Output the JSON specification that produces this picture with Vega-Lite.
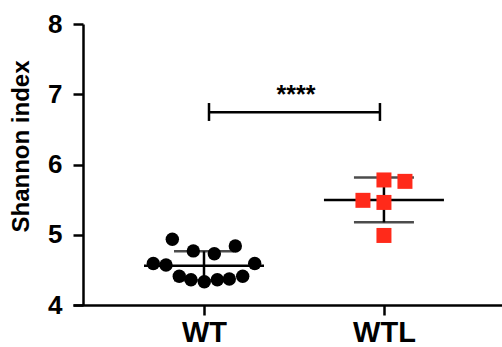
{
  "$schema": "https://vega.github.io/schema/vega-lite/v6.json",
  "width": 429,
  "height": 281,
  "autosize": {"type": "none"},
  "padding": {"left": 73, "top": 24, "right": 0, "bottom": 42},
  "background": "white",
  "config": {
    "view": {"stroke": null},
    "font": "Liberation Sans",
    "axis": {
      "domainColor": "black", "domainWidth": 2.5, "tickColor": "black", "tickWidth": 2.5, "tickSize": 10,
      "labelColor": "black", "labelFont": "Liberation Sans", "labelFontWeight": "bold", "grid": false,
      "titleColor": "black", "titleFont": "Liberation Sans", "titleFontWeight": "bold"
    }
  },
  "data": {
    "values": [
      {"group": "WT", "value": 4.935, "jitter": -0.528},
      {"group": "WT", "value": 4.77, "jitter": -0.178},
      {"group": "WT", "value": 4.73, "jitter": 0.172},
      {"group": "WT", "value": 4.84, "jitter": 0.522},
      {"group": "WT", "value": 4.59, "jitter": -0.845},
      {"group": "WT", "value": 4.57, "jitter": -0.633},
      {"group": "WT", "value": 4.59, "jitter": 0.845},
      {"group": "WT", "value": 4.41, "jitter": -0.412},
      {"group": "WT", "value": 4.36, "jitter": -0.217},
      {"group": "WT", "value": 4.33, "jitter": 0.005},
      {"group": "WT", "value": 4.36, "jitter": 0.222},
      {"group": "WT", "value": 4.37, "jitter": 0.422},
      {"group": "WT", "value": 4.41, "jitter": 0.645},
      {"group": "WTL", "value": 5.78, "jitter": 0},
      {"group": "WTL", "value": 5.76, "jitter": 0.35},
      {"group": "WTL", "value": 5.49, "jitter": -0.35},
      {"group": "WTL", "value": 5.46, "jitter": 0},
      {"group": "WTL", "value": 4.99, "jitter": 0}
    ]
  },
  "layer": [
    {
      "mark": {"type": "tick", "size": 120, "thickness": 2.5, "color": "black"},
      "encoding": {
        "x": {
          "field": "group", "type": "nominal",
          "scale": {"type": "point", "domain": ["WT", "WTL"], "padding": 0.692, "align": 0.526},
          "axis": {"title": null, "labelAngle": 0, "labelFontSize": 29, "labelPadding": 3}
        },
        "y": {
          "aggregate": "mean", "field": "value", "type": "quantitative", "title": "Shannon index",
          "scale": {"domain": [4, 8], "nice": false, "zero": false},
          "axis": {
            "titleFontSize": 24, "values": [4, 5, 6, 7, 8], "format": "d", "offset": -10,
            "labelFontSize": 26, "labelPadding": 11, "titleX": -50, "titleY": 122, "titleAngle": -90,
            "titleAlign": "center", "titleBaseline": "bottom"
          }
        }
      }
    },
    {
      "mark": {
        "type": "errorbar", "extent": "stdev",
        "ticks": {"size": 60, "thickness": 2.5, "color": "black"},
        "rule": {"strokeWidth": 2.5, "color": "black"}
      },
      "encoding": {
        "x": {"field": "group", "type": "nominal"},
        "y": {"field": "value", "type": "quantitative", "title": "Shannon index"}
      }
    },
    {
      "mark": {"type": "point", "filled": true, "opacity": 1, "strokeWidth": 0},
      "encoding": {
        "x": {"field": "group", "type": "nominal"},
        "xOffset": {"field": "jitter", "type": "quantitative", "scale": {"domain": [-1, 1], "range": [-60, 60]}},
        "y": {"field": "value", "type": "quantitative", "title": "Shannon index"},
        "shape": {"field": "group", "type": "nominal", "scale": {"domain": ["WT", "WTL"], "range": ["circle", "square"]}, "legend": null},
        "color": {"field": "group", "type": "nominal", "scale": {"domain": ["WT", "WTL"], "range": ["#000000", "#ff2a1a"]}, "legend": null},
        "size": {"field": "group", "type": "nominal", "scale": {"domain": ["WT", "WTL"], "range": [180, 225]}, "legend": null}
      }
    },
    {
      "data": {"values": [{"a": "WT", "b": "WTL", "y": 6.745}]},
      "mark": {"type": "rule", "strokeWidth": 2.5, "color": "black", "xOffset": 5, "x2Offset": -4},
      "encoding": {
        "x": {"field": "a", "type": "nominal"},
        "x2": {"field": "b"},
        "y": {"field": "y", "type": "quantitative", "title": "Shannon index"}
      }
    },
    {
      "data": {"values": [{"a": "WT", "y1": 6.62, "y2": 6.875}]},
      "mark": {"type": "rule", "strokeWidth": 2.5, "color": "black", "xOffset": 5},
      "encoding": {
        "x": {"field": "a", "type": "nominal"},
        "y": {"field": "y1", "type": "quantitative", "title": "Shannon index"},
        "y2": {"field": "y2"}
      }
    },
    {
      "data": {"values": [{"a": "WTL", "y1": 6.62, "y2": 6.875}]},
      "mark": {"type": "rule", "strokeWidth": 2.5, "color": "black", "xOffset": -4},
      "encoding": {
        "x": {"field": "a", "type": "nominal"},
        "y": {"field": "y1", "type": "quantitative", "title": "Shannon index"},
        "y2": {"field": "y2"}
      }
    },
    {
      "data": {"values": [{"a": "WT", "y": 6.99, "label": "****"}]},
      "mark": {"type": "text", "fontSize": 25, "fontWeight": "bold", "color": "black", "dx": 92, "baseline": "middle", "align": "center"},
      "encoding": {
        "x": {"field": "a", "type": "nominal"},
        "y": {"field": "y", "type": "quantitative", "title": "Shannon index"},
        "text": {"field": "label"}
      }
    }
  ]
}
